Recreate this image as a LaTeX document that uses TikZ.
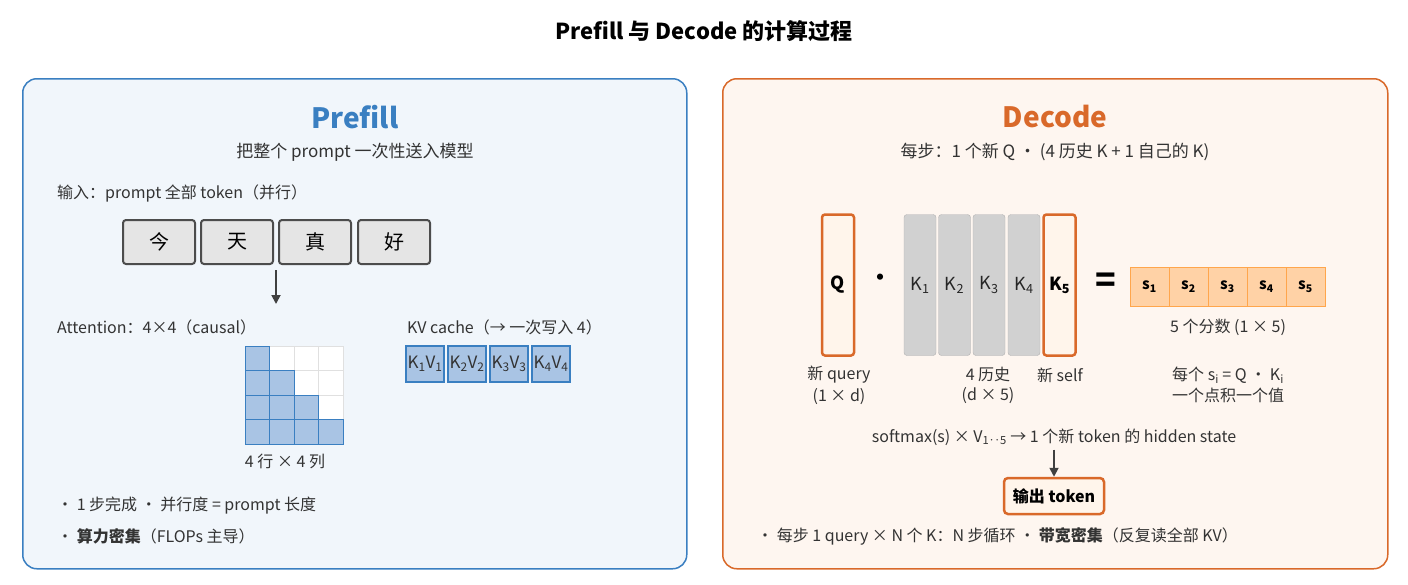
\documentclass[tikz,border=0pt]{standalone}
\usepackage{fontspec}
\setmainfont{Noto Sans CJK SC}
\usetikzlibrary{arrows.meta}
\definecolor{pblue}{HTML}{3A7FC1}
\definecolor{pbg}{HTML}{F1F6FB}
\definecolor{dor}{HTML}{D9692A}
\definecolor{dbg}{HTML}{FEF6F0}
\definecolor{cellb}{HTML}{A9C4E4}
\definecolor{txt}{HTML}{333333}
\newcommand{\fs}[1]{\fontsize{#1}{#1}\selectfont}
\begin{document}
\begin{tikzpicture}[x=1pt,y=-1pt,
  lbl/.style={inner sep=0pt,text=txt,font=\fs{16}},
  tok/.style={draw=black!70,line width=2pt,fill=black!10,rounded corners=3pt,minimum width=72pt,minimum height=44pt,font=\fs{20},inner sep=0pt},
  kv/.style={draw=pblue,line width=1.5pt,fill=cellb,minimum width=38pt,minimum height=36pt,inner sep=0pt,font=\fs{17},text=txt},
  kg/.style={draw=black!30,fill=black!18,rounded corners=3pt,minimum width=32pt,minimum height=141pt,inner sep=0pt,font=\fs{18},text=black!85},
  ko/.style={draw=dor,line width=2.5pt,fill=orange!8,rounded corners=3pt,minimum width=32pt,minimum height=141pt,inner sep=0pt,font=\bfseries\fs{18}},
  sc/.style={draw=orange!70,fill=orange!35,minimum width=39pt,minimum height=39pt,inner sep=0pt,font=\bfseries\fs{15}},
  arr/.style={-{Triangle[length=9pt,width=9pt]},line width=1.8pt,draw=black!75}]
\useasboundingbox (0,0) rectangle (1408,584);
\fill[white] (0,0) rectangle (1408,584);
\node[font=\bfseries\fs{22}] (title) at (704,31) {Prefill 与 Decode 的计算过程};
% left panel
\node[draw=pblue,line width=1.5pt,fill=pbg,rounded corners=14pt,minimum width=664pt,minimum height=490pt,anchor=north west,inner sep=0pt] (lp) at (22,78) {};
\node[font=\bfseries\fs{28},text=pblue] (pt) at (355,117) {Prefill};
\node[lbl,font=\fs{17}] (ps) at (355,152) {把整个 prompt 一次性送入模型};
\node[lbl,anchor=west] (in) at (57,193) {输入：prompt 全部 token（并行）};
\node[tok] (t1) at (159,242) {今};
\node[tok] (t2) at (237,242) {天};
\node[tok] (t3) at (315,242) {真};
\node[tok] (t4) at (394,242) {好};
\coordinate (a1) at (276,270); \coordinate (a2) at (276,304);
\draw[arr] (a1) -- (a2);
\node[lbl,anchor=west] (att) at (57,327) {Attention：4×4（causal）};
\foreach \r in {0,...,3}{\foreach \c in {0,...,3}{
  \ifnum\c>\r
    \draw[draw=black!12,fill=white] (245+24.5*\c,346+24.5*\r) rectangle ++(24.5,24.5);
  \fi}}
\foreach \r in {0,...,3}{\foreach \c in {0,...,3}{
  \ifnum\c>\r\else
    \draw[draw=pblue,fill=cellb] (245+24.5*\c,346+24.5*\r) rectangle ++(24.5,24.5);
  \fi}}
\node[lbl] (gl) at (285,461) {4 行 × 4 列};
\node[lbl,anchor=west] (kvt) at (407,327) {KV cache（→ 一次写入 4）};
\foreach \i in {1,...,4}{
  \node[kv] (kv\i) at (425+42*\i-42,364) {K\textsubscript{\i}V\textsubscript{\i}};}
\node[lbl,anchor=west] (b1) at (57,506) {• 1 步完成 · 并行度 = prompt 长度};
\node[lbl,anchor=west] (b2) at (57,536) {• \textbf{算力密集}（FLOPs 主导）};
% right panel
\node[draw=dor,line width=1.5pt,fill=dbg,rounded corners=14pt,minimum width=665pt,minimum height=490pt,anchor=north west,inner sep=0pt] (rp) at (722,78) {};
\node[font=\bfseries\fs{28},text=dor] (dt) at (1055,117) {Decode};
\node[lbl,font=\fs{17}] (ds) at (1055,152) {每步：1 个新 Q · (4 历史 K + 1 自己的 K)};
\node[ko] (q) at (838,285) {Q};
\node[font=\bfseries\fs{22}] (dot) at (880,280) {·};
\node[kg] (k1) at (920,285) {K\textsubscript{1}};
\node[kg] (k2) at (954.5,285) {K\textsubscript{2}};
\node[kg] (k3) at (989,285) {K\textsubscript{3}};
\node[kg] (k4) at (1024,285) {K\textsubscript{4}};
\node[ko] (k5) at (1059.5,285) {K\textsubscript{5}};
\node[font=\bfseries\fs{34}] (eq) at (1106,283) {=};
\foreach \i in {1,...,5}{
  \node[sc] (s\i) at (1149.5+39*\i-39,286.5) {s\textsubscript{\i}};}
\node[lbl] (sl) at (1228,327) {5 个分数 (1 × 5)};
\node[lbl,align=center] (ql) at (839,385) {新 query\\[4pt](1 × d)};
\node[lbl,align=center] (hl) at (988,385) {4 历史\\[4pt](d × 5)};
\node[lbl] (sfl) at (1060,375) {新 self};
\node[lbl,align=center] (el) at (1228,385) {每个 s\textsubscript{i} = Q · K\textsubscript{i}\\[4pt]一个点积一个值};
\node[lbl] (sm) at (1054,437) {softmax(s) × V\textsubscript{1‥5} → 1 个新 token 的 hidden state};
\node[draw=dor,line width=2.5pt,fill=orange!8,rounded corners=4pt,minimum width=100pt,minimum height=36pt,inner sep=0pt,font=\bfseries\fs{16}] (out) at (1054,496) {输出 token};
\draw[arr] (sm.south) ++(0,4) coordinate (c1) (c1) -- (out.north);
\node[lbl,anchor=west] (b3) at (757,536) {• 每步 1 query × N 个 K：N 步循环 · \textbf{带宽密集}（反复读全部 KV）};
\end{tikzpicture}
\end{document}
